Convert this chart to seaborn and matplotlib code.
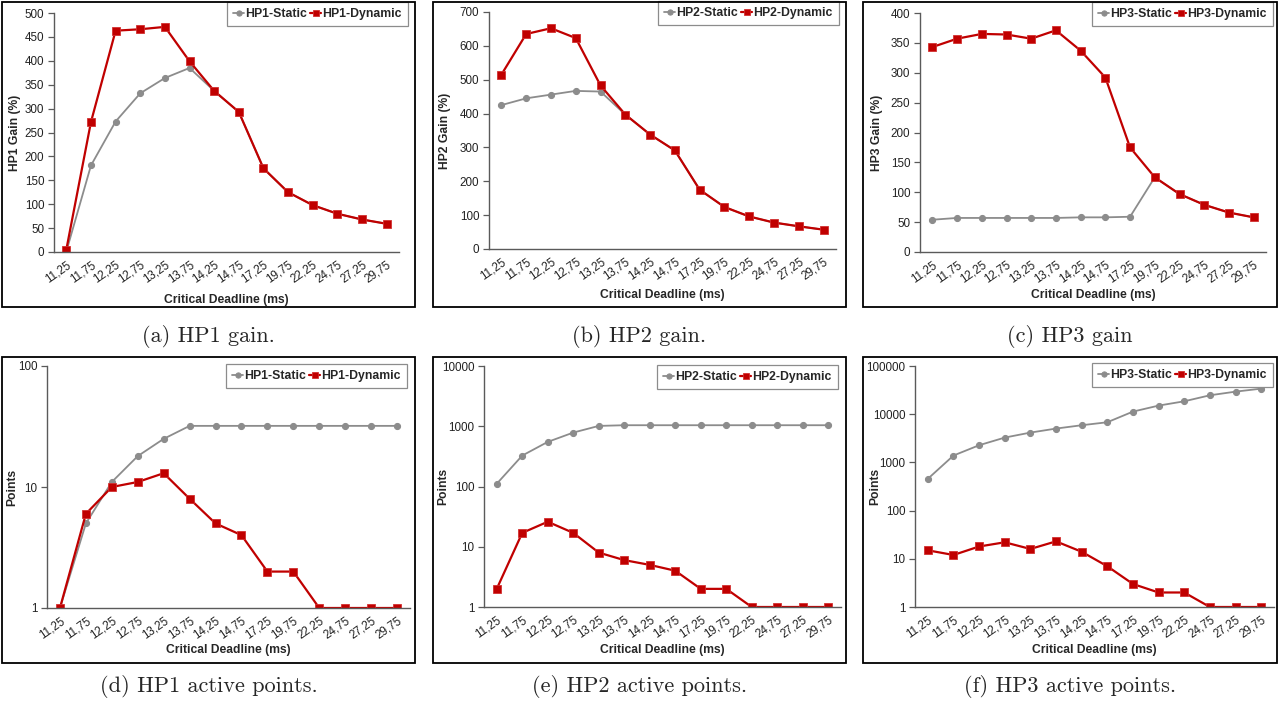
import numpy as np
import pandas as pd
import matplotlib
matplotlib.use("Agg")
import matplotlib.pyplot as plt
import seaborn as sns
from matplotlib.ticker import FixedLocator, NullLocator, FuncFormatter
from matplotlib.patches import Rectangle

# ---------------- data ----------------
deadlines = ["11,25", "11,75", "12,25", "12,75", "13,25", "13,75", "14,25",
             "14,75", "17,25", "19,75", "22,25", "24,75", "27,25", "29,75"]

hp1_gain_static = [1, 181, 273, 332, 364, 385, 337, 293, 175, 125, 98, 80, 68, 59]
hp1_gain_dynamic = [5, 272, 463, 466, 471, 399, 337, 293, 175, 125, 98, 80, 68, 59]
hp2_gain_static = [425, 445, 456, 467, 465, 397, 338, 291, 175, 124, 96, 78, 67, 57]
hp2_gain_dynamic = [515, 635, 652, 623, 483, 397, 338, 291, 175, 124, 96, 78, 67, 57]
hp3_gain_static = [54, 57, 57, 57, 57, 57, 58, 58, 59, 125, 97, 79, 66, 58]
hp3_gain_dynamic = [343, 357, 365, 364, 357, 371, 337, 292, 175, 125, 97, 79, 66, 58]

hp1_points_static = [1, 5, 11, 18, 25, 32, 32, 32, 32, 32, 32, 32, 32, 32]
hp1_points_dynamic = [1, 6, 10, 11, 13, 8, 5, 4, 2, 2, 1, 1, 1, 1]
hp2_points_static = [111, 326, 550, 785, 1013, 1040, 1040, 1040, 1040, 1040, 1040, 1040, 1040, 1040]
hp2_points_dynamic = [2, 17, 26, 17, 8, 6, 5, 4, 2, 2, 1, 1, 1, 1]
hp3_points_static = [456, 1387, 2271, 3273, 4155, 5032, 5903, 6808, 11324, 15080, 18530, 24680, 29380, 33900]
hp3_points_dynamic = [15, 12, 18, 22, 16, 23, 14, 7, 3, 2, 2, 1, 1, 1]

series_names = ["HP1", "HP2", "HP3"]
gain_static = [hp1_gain_static, hp2_gain_static, hp3_gain_static]
gain_dynamic = [hp1_gain_dynamic, hp2_gain_dynamic, hp3_gain_dynamic]
points_static = [hp1_points_static, hp2_points_static, hp3_points_static]
points_dynamic = [hp1_points_dynamic, hp2_points_dynamic, hp3_points_dynamic]

captions = ["(a) HP1 gain.", "(b) HP2 gain.", "(c) HP3 gain",
            "(d) HP1 active points.", "(e) HP2 active points.", "(f) HP3 active points."]

# ---------------- style ----------------
sns.set_style("white")
plt.rcParams["font.family"] = ["Liberation Sans", "DejaVu Sans"]

W, H = 1285, 715
fig = plt.figure(figsize=(W / 100, H / 100), dpi=100)

STATIC_C = "#8c8c8c"
DYN_C = "#c00000"
AX_C = "#5a5a5a"


def fbox(l, t, r, b):
    return [l / W, 1 - b / H, (r - l) / W, (b - t) / H]


# pixel boxes (left, top, right, bottom) of plot areas
axes_px = [
    (54, 13, 399, 252), (489, 12, 836, 249), (920, 13, 1266, 252),
    (47, 366, 410, 608), (484, 366, 841, 607), (915, 366, 1274, 607),
]
frames_px = [
    (2, 2, 415, 307), (433, 2, 846, 307), (863, 2, 1277, 307),
    (2, 357, 415, 663), (433, 357, 846, 663), (863, 357, 1277, 663),
]
legend_px = [(408, 2), (839, 1), (1273, 2), (407, 364), (838, 365), (1273, 363)]
ylabel_x = [15, 445, 877, 12, 443, 875]
xlabel_y = [300, 295, 295, 650, 650, 650]
caption_y = [337, 337, 337, 686, 686, 686]

gain_ticks = [np.arange(0, 501, 50), np.arange(0, 701, 100), np.arange(0, 401, 50)]
log_top = [100, 10000, 100000]

for i in range(6):
    row, col = divmod(i, 3)
    name = series_names[col]
    ax = fig.add_axes(fbox(*axes_px[i]))
    if row == 0:
        ys, yd = gain_static[col], gain_dynamic[col]
    else:
        ys, yd = points_static[col], points_dynamic[col]
        ax.set_yscale("log")

    df = pd.DataFrame({"deadline": deadlines, "static": ys, "dynamic": yd})
    sns.lineplot(data=df, x="deadline", y="static", ax=ax, sort=False,
                 color=STATIC_C, linewidth=1.3, marker="o", markersize=4.4,
                 markeredgecolor=STATIC_C, markerfacecolor=STATIC_C,
                 label=f"{name}-Static")
    sns.lineplot(data=df, x="deadline", y="dynamic", ax=ax, sort=False,
                 color=DYN_C, linewidth=1.6, marker="s", markersize=5.4,
                 markeredgecolor="#d23030", markeredgewidth=0.6,
                 markerfacecolor=DYN_C, label=f"{name}-Dynamic")

    ax.set_xlim(-0.5, len(deadlines) - 0.5)
    if row == 0:
        t = gain_ticks[col]
        ax.set_ylim(t[0], t[-1])
        ax.yaxis.set_major_locator(FixedLocator(t))
    else:
        top = log_top[col]
        ax.set_ylim(1, top)
        decades = [10 ** k for k in range(int(round(np.log10(top))) + 1)]
        ax.yaxis.set_major_locator(FixedLocator(decades))
        ax.yaxis.set_minor_locator(NullLocator())
        ax.yaxis.set_major_formatter(FuncFormatter(lambda v, p: f"{int(round(v))}"))

    # x ticks: labels at categories, marks at boundaries
    ax.set_xticks(range(len(deadlines)))
    ax.set_xticklabels(deadlines, rotation=35, ha="right", va="top",
                       rotation_mode="anchor", fontsize=8.4, color="#222222")
    ax.xaxis.set_minor_locator(FixedLocator(np.arange(-0.5, len(deadlines), 1.0)))
    ax.tick_params(axis="x", which="major", length=0, pad=5)
    ax.tick_params(axis="x", which="minor", length=4, width=0.9,
                   direction="out", color=AX_C)
    ax.tick_params(axis="y", which="major", length=4, width=0.9, direction="out",
                   color=AX_C, labelsize=8.4, labelcolor="#222222", pad=3,
                   left=True)

    for s in ["top", "right"]:
        ax.spines[s].set_visible(False)
    for s in ["left", "bottom"]:
        ax.spines[s].set_color(AX_C)
        ax.spines[s].set_linewidth(1.0)

    ylabel = f"{name} Gain (%)" if row == 0 else "Points"
    ax.set_ylabel(ylabel, fontsize=8.7, fontweight="bold")
    ax.yaxis.set_label_coords(ylabel_x[i] / W, 1 - (axes_px[i][1] + axes_px[i][3]) / 2 / H,
                              transform=fig.transFigure)
    ax.set_xlabel("Critical Deadline (ms)", fontsize=8.7, fontweight="bold")
    ax.xaxis.set_label_coords((axes_px[i][0] + axes_px[i][2]) / 2 / W, 1 - xlabel_y[i] / H,
                              transform=fig.transFigure)
    ax.xaxis.label.set_verticalalignment("center")
    ax.yaxis.label.set_verticalalignment("center")

    lx, ly = legend_px[i]
    leg = ax.legend(loc="upper right", bbox_to_anchor=(lx / W, 1 - ly / H),
                    bbox_transform=fig.transFigure, ncol=2, frameon=True,
                    fancybox=False, framealpha=1, edgecolor="#8c8c8c",
                    prop={"weight": "bold", "size": 8.8}, handlelength=0.9,
                    handletextpad=0.1, columnspacing=0.25, borderpad=0.5,
                    borderaxespad=0, markerscale=0.85)
    leg.get_frame().set_linewidth(0.9)

    l, t_, r, b = frames_px[i]
    fig.add_artist(Rectangle((l / W, 1 - b / H), (r - l) / W, (b - t_) / H,
                             transform=fig.transFigure, fill=False,
                             edgecolor="black", linewidth=1.3))
    fig.text((l + r) / 2 / W, 1 - caption_y[i] / H, captions[i],
             family="cmr10", fontsize=16, ha="center", va="center")

fig.savefig("out.png", dpi=100)
